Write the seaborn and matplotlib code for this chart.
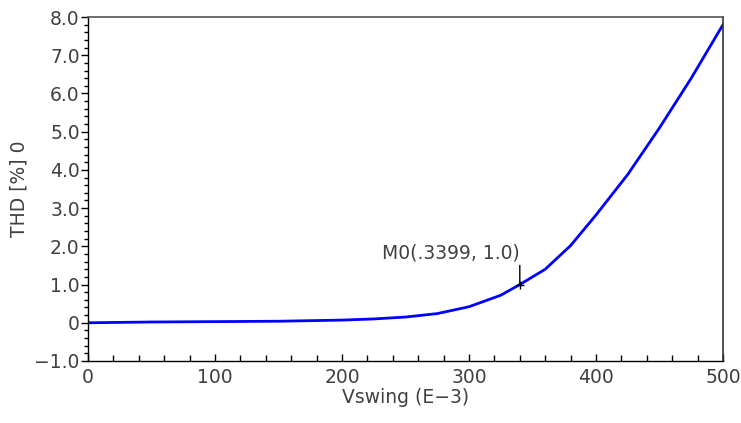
import matplotlib
matplotlib.use("Agg")
import matplotlib.pyplot as plt
import seaborn as sns
import pandas as pd
from matplotlib.ticker import MultipleLocator, FuncFormatter

# Data (Vswing in mV, THD in %)
vswing = [0, 25, 50, 100, 150, 200, 225, 250, 275, 300, 325, 340, 360, 380, 400, 425, 450, 475, 500]
thd = [0.0, 0.01, 0.02, 0.03, 0.04, 0.07, 0.10, 0.15, 0.24, 0.42, 0.72, 1.0, 1.40, 2.02, 2.82, 3.88, 5.1, 6.4, 7.8]
marker_x = 340
marker_y = 1.0
marker_label = "M0(.3399, 1.0)"

sns.set_style("white")
plt.rcParams['font.family'] = ['DejaVu Sans']

FS = 13.5
fig = plt.figure(figsize=(7.41, 4.23), dpi=100)
ax = fig.add_axes([0.1188, 0.1466, 0.8569, 0.8132])

df = pd.DataFrame({"Vswing": vswing, "THD": thd})
sns.lineplot(data=df, x="Vswing", y="THD", ax=ax, color="#0000ff", linewidth=2.0)

ax.set_xlim(0, 500)
ax.set_ylim(-1.0, 8.0)
ax.xaxis.set_major_locator(MultipleLocator(100))
ax.xaxis.set_minor_locator(MultipleLocator(20))
ax.yaxis.set_major_locator(MultipleLocator(1.0))
ax.yaxis.set_minor_locator(MultipleLocator(0.2))

def yfmt(v, pos):
    if abs(v) < 1e-9:
        return "0"
    return ("%.1f" % v).replace("-", "\u2212")

ax.yaxis.set_major_formatter(FuncFormatter(yfmt))
ax.xaxis.set_major_formatter(FuncFormatter(lambda v, p: "%d" % v))

txtcol = "#404040"
ax.tick_params(axis="x", which="major", direction="in", length=5, width=1, colors="black",
               labelcolor=txtcol, labelsize=FS, pad=5)
ax.tick_params(axis="x", which="minor", direction="in", length=4, width=1, colors="black")
ax.tick_params(axis="y", which="major", direction="out", length=5, width=1, colors="black",
               labelcolor=txtcol, labelsize=FS, pad=1)
ax.tick_params(axis="y", which="minor", direction="out", length=3, width=1, colors="black")
ax.tick_params(bottom=True, left=True, which="both")

for s in ["left", "bottom"]:
    ax.spines[s].set_color("black")
    ax.spines[s].set_linewidth(1.0)
ax.spines["top"].set_color("#555555")
ax.spines["right"].set_color("#333333")
ax.spines["top"].set_linewidth(1.2)
ax.spines["right"].set_linewidth(1.2)

ax.set_xlabel("Vswing (E\u22123)", fontsize=FS, color=txtcol, labelpad=1)
ax.set_ylabel("THD [%] 0", fontsize=FS, color=txtcol, labelpad=4)

# Marker annotation
ax.plot([marker_x], [marker_y], marker="+", color="black", markersize=6, mew=1)
ax.annotate(marker_label, xy=(marker_x, marker_y), xytext=(0, 23), textcoords="offset points",
            ha="right", va="center", fontsize=FS, color=txtcol,
            arrowprops=dict(arrowstyle="-", color="black", lw=1, shrinkA=0, shrinkB=0,
                            relpos=(1.0, 0.5)))

fig.savefig("out.png", dpi=100)
